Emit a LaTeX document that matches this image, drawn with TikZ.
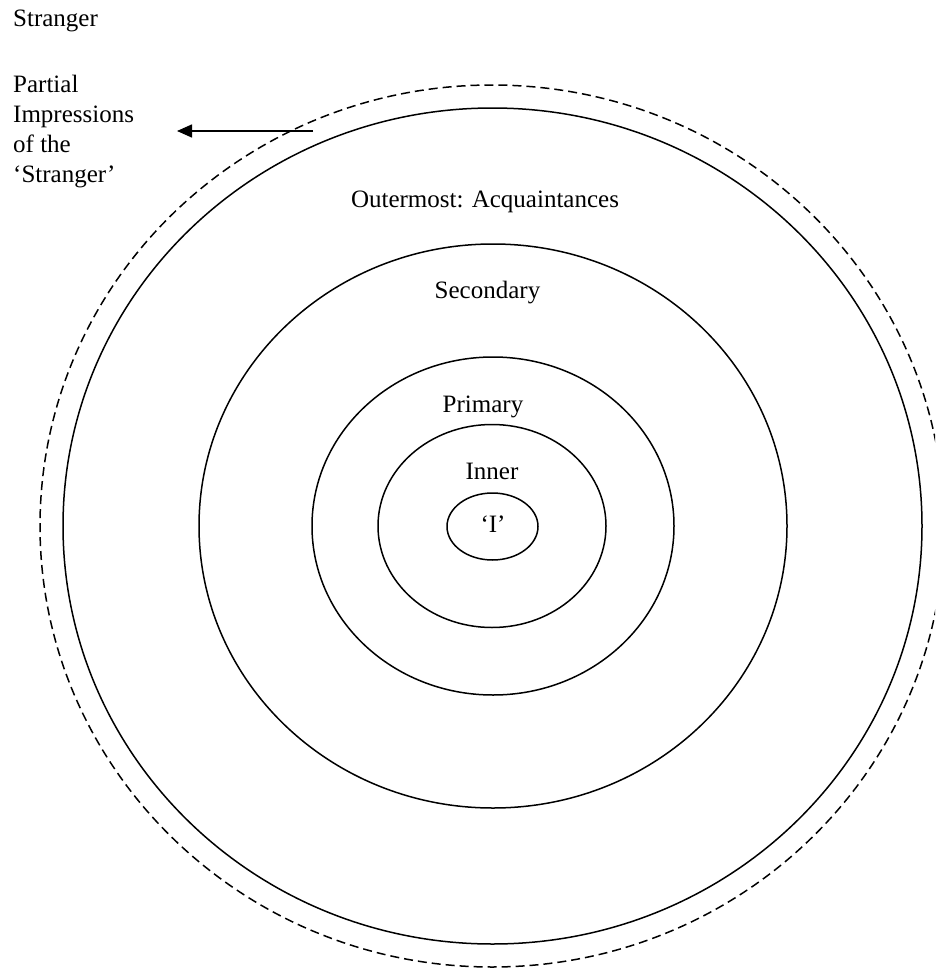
\documentclass[tikz,border=0pt]{standalone}
\usepackage{fontspec}
\setmainfont{Liberation Serif}
\usetikzlibrary{shapes.geometric,arrows.meta}
\begin{document}
\begin{tikzpicture}[x=1pt,y=-1pt,
  ring/.style={ellipse,draw,line width=1.5pt,inner sep=0pt,outer sep=0pt},
  lbl/.style={inner sep=0pt,font=\fontsize{25}{29.7}\selectfont},
  every node/.append style={text=black}]
\useasboundingbox (0,0) rectangle (935,969);
\begin{scope}
\clip (0,0) rectangle (935,969);
\node[ring,dash pattern=on 9pt off 5pt,minimum width=904pt,minimum height=882pt] (dash) at (492,526) {};
\end{scope}
\node[ring,minimum width=859pt,minimum height=836pt] (outer) at (492.5,526) {};
\node[ring,minimum width=588pt,minimum height=564pt] (second) at (493,526) {};
\node[ring,minimum width=362pt,minimum height=338pt] (prim) at (493,526) {};
\node[ring,minimum width=228pt,minimum height=203pt] (inner) at (492,526) {};
\node[ring,minimum width=91pt,minimum height=67pt] (self) at (492.5,526.5) {};
\node[lbl,anchor=base] (tI) at (493,532) {`I'};
\node[lbl,anchor=base] (tInner) at (492,479) {Inner};
\node[lbl,anchor=base] (tPrim) at (483,412) {Primary};
\node[lbl,anchor=base] (tSec) at (487.5,298) {Secondary};
\node[lbl,anchor=base] (tOut) at (485,207) {Outermost: Acquaintances};
\node[lbl,anchor=base west] (tStr) at (13,27) {Stranger};
\node[lbl,anchor=base west,align=left] (tPart) at (13,182) {Partial\\Impressions\\of the\\`Stranger'};
\coordinate (aS) at (313,131);
\coordinate (aE) at (177,131);
\draw[line width=1.5pt,-{Triangle[length=15pt,width=13pt]}] (aS) -- (aE);
\end{tikzpicture}
\end{document}
